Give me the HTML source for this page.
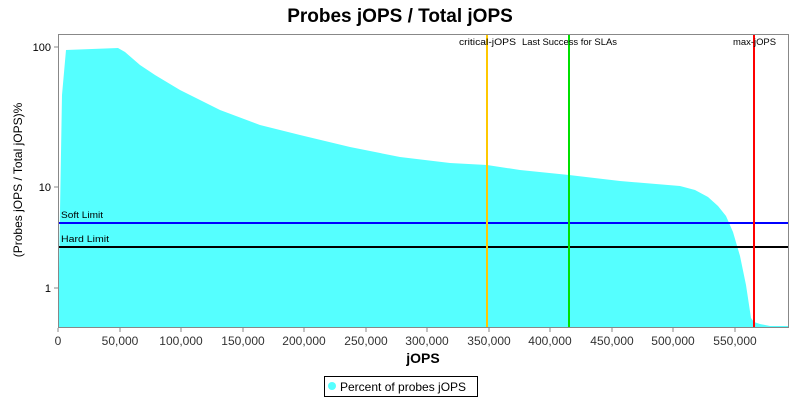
<!DOCTYPE html>
<html><head><style>body{margin:0;background:#fff}svg{display:block;font-family:"Liberation Sans",sans-serif}</style></head><body>
<svg width="800" height="400" viewBox="0 0 800 400">
<text x="400" y="22" text-anchor="middle" font-size="19" font-weight="bold">Probes jOPS / Total jOPS</text>
<path d="M58,327 L62,95 L66,50 L118,48 L125,52 L140,65 L155,75 L180,90 L220,110 L260,125 L300,135 L350,147 L400,157 L450,163 L487,165 L520,170 L569,175 L620,181 L680,186 L695,190 L708,197 L718,206 L726,216 L733,232 L740,256 L746,285 L751,318 L754,322 L760,324 L770,326 L788,326 L788,327 Z" fill="#55ffff"/>
<line x1="58" y1="223" x2="788" y2="223" stroke="#0000ff" stroke-width="2"/>
<line x1="58" y1="247" x2="788" y2="247" stroke="#000" stroke-width="2"/>
<line x1="487" y1="34" x2="487" y2="327" stroke="#ffc800" stroke-width="2"/>
<line x1="569" y1="34" x2="569" y2="327" stroke="#00e000" stroke-width="2"/>
<line x1="754" y1="34" x2="754" y2="327" stroke="#ff0000" stroke-width="2"/>
<g font-size="9" fill="#000">
<text x="61" y="218" textLength="42" lengthAdjust="spacingAndGlyphs">Soft Limit</text>
<text x="61" y="242" textLength="48" lengthAdjust="spacingAndGlyphs">Hard Limit</text>
<text x="459" y="45" textLength="57" lengthAdjust="spacingAndGlyphs">critical-jOPS</text>
<text x="522" y="45" textLength="95" lengthAdjust="spacingAndGlyphs">Last Success for SLAs</text>
<text x="733" y="45" textLength="43" lengthAdjust="spacingAndGlyphs">max-jOPS</text>
</g>
<rect x="58.5" y="34.5" width="730" height="293" fill="none" stroke="#888"/>
<g stroke="#888">
<line x1="54" y1="47" x2="58" y2="47"/><line x1="54" y1="187" x2="58" y2="187"/><line x1="54" y1="288" x2="58" y2="288"/>
</g>
<g font-size="11" text-anchor="end" fill="#000">
<text x="51" y="51">100</text><text x="51" y="191">10</text><text x="51" y="292">1</text>
</g>
<g stroke="#888">
<line x1="58" y1="328" x2="58" y2="332"/><line x1="120" y1="328" x2="120" y2="332"/><line x1="181" y1="328" x2="181" y2="332"/><line x1="243" y1="328" x2="243" y2="332"/><line x1="304" y1="328" x2="304" y2="332"/><line x1="366" y1="328" x2="366" y2="332"/><line x1="427" y1="328" x2="427" y2="332"/><line x1="489" y1="328" x2="489" y2="332"/><line x1="550" y1="328" x2="550" y2="332"/><line x1="612" y1="328" x2="612" y2="332"/><line x1="673" y1="328" x2="673" y2="332"/><line x1="735" y1="328" x2="735" y2="332"/>
</g>
<g font-size="12" text-anchor="middle" fill="#333">
<text x="58" y="345">0</text><text x="120" y="345">50,000</text><text x="181" y="345">100,000</text><text x="243" y="345">150,000</text><text x="304" y="345">200,000</text><text x="366" y="345">250,000</text><text x="427" y="345">300,000</text><text x="489" y="345">350,000</text><text x="550" y="345">400,000</text><text x="612" y="345">450,000</text><text x="673" y="345">500,000</text><text x="735" y="345">550,000</text>
</g>
<text x="423" y="363" text-anchor="middle" font-size="14" font-weight="bold" fill="#000">jOPS</text>
<text transform="translate(22,180) rotate(-90)" text-anchor="middle" font-size="12">(Probes jOPS / Total jOPS)%</text>
<rect x="324.5" y="376.5" width="153" height="20" fill="#fff" stroke="#000"/>
<circle cx="332" cy="386" r="4" fill="#55ffff"/>
<text x="340" y="391" font-size="12">Percent of probes jOPS</text>
</svg>
</body></html>
